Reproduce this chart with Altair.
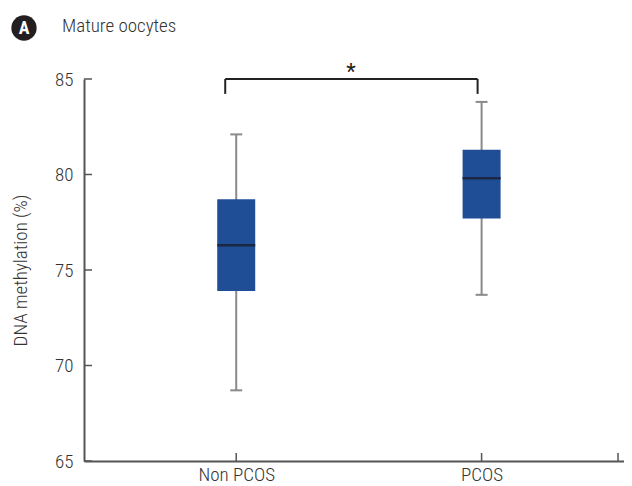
import altair as alt
import pandas as pd

# ---- data ----
groups = ["Non PCOS", "PCOS"]
group_pos = [1, 2]
whisker_min = [68.7, 73.7]
q1 = [73.9, 77.7]
median = [76.3, 79.8]
q3 = [78.7, 81.3]
whisker_max = [82.1, 83.8]
y_ticks = [65, 70, 75, 80, 85]
x_ticks = [1, 2, 2.556]
panel_letter = "A"
title_text = "Mature oocytes"
y_title = "DNA methylation (%)"
sig_mark = "*"

df = pd.DataFrame(dict(group=groups, pos=group_pos, lo=whisker_min,
                       q1=q1, med=median, q3=q3, hi=whisker_max))

FONT = "Roboto Condensed, Liberation Sans Narrow, DejaVu Sans Condensed, Arial Narrow, Roboto, sans-serif"
W, H = 540, 382
BOX = "#1f4e96"
WHISK = "#8a8a8a"
AXC = "#555555"
TXT = "#333333"

xs = alt.Scale(domain=[0.4, 2.56], nice=False, zero=False)
ys = alt.Scale(domain=[65, 85], nice=False, zero=False)

label_expr = " : ".join(
    f"datum.value == {p} ? '{g}'" for p, g in zip(group_pos, groups)
) + " : ''"

X = alt.X("pos:Q", scale=xs, title=None,
          axis=alt.Axis(values=group_pos, labelExpr=label_expr, labelPadding=4,
                        labelFontSize=19, labelFont=FONT, labelColor=TXT,
                        labelFontWeight=300))
Y = alt.Y("lo:Q", scale=ys, title=y_title,
          axis=alt.Axis(values=y_ticks, labelPadding=11, labelFontSize=19,
                        labelFont=FONT, labelColor=TXT, labelFontWeight=300,
                        titleFont=FONT, titleFontSize=19, titleFontWeight=300,
                        titleColor=TXT, titlePadding=24))

base = alt.Chart(df)

whisk = base.mark_rule(color=WHISK, strokeWidth=2).encode(x=X, y=Y, y2="hi:Q")
cap_lo = base.mark_rule(color=WHISK, strokeWidth=2, xOffset=-6, x2Offset=6).encode(
    x=alt.X("pos:Q", scale=xs), x2="pos:Q", y=alt.Y("lo:Q", scale=ys))
cap_hi = base.mark_rule(color=WHISK, strokeWidth=2, xOffset=-6, x2Offset=6).encode(
    x=alt.X("pos:Q", scale=xs), x2="pos:Q", y=alt.Y("hi:Q", scale=ys))
box = base.mark_bar(size=38, color=BOX).encode(
    x=alt.X("pos:Q", scale=xs), y=alt.Y("q1:Q", scale=ys), y2="q3:Q")
med = base.mark_rule(color="#1b2743", strokeWidth=2.5, xOffset=-19, x2Offset=19).encode(
    x=alt.X("pos:Q", scale=xs), x2="pos:Q", y=alt.Y("med:Q", scale=ys))

# significance bracket
br = pd.DataFrame({"a": [group_pos[0]], "b": [group_pos[1]], "top": [y_ticks[-1]],
                   "bot": [y_ticks[-1] - 0.78], "mid": [(group_pos[0] + group_pos[1]) / 2],
                   "s": [sig_mark]})
bc = alt.Chart(br)
br_h = bc.mark_rule(color="#222222", strokeWidth=2, xOffset=-11, x2Offset=-4).encode(
    x=alt.X("a:Q", scale=xs), x2="b:Q", y=alt.Y("top:Q", scale=ys))
br_l = bc.mark_rule(color="#222222", strokeWidth=2, xOffset=-11).encode(
    x=alt.X("a:Q", scale=xs), y=alt.Y("top:Q", scale=ys), y2="bot:Q")
br_r = bc.mark_rule(color="#222222", strokeWidth=2, xOffset=-4).encode(
    x=alt.X("b:Q", scale=xs), y=alt.Y("top:Q", scale=ys), y2="bot:Q")
star = bc.mark_text(font=FONT, fontSize=22, color="#222222", dx=-8, dy=-7,
                    baseline="middle").encode(
    x=alt.X("mid:Q", scale=xs), y=alt.Y("top:Q", scale=ys), text="s:N")

# inward axis ticks
yt = alt.Chart(pd.DataFrame({"v": y_ticks})).mark_rule(color=AXC, strokeWidth=1.5).encode(
    y=alt.Y("v:Q", scale=ys), x=alt.value(0), x2=alt.value(8))
xt = alt.Chart(pd.DataFrame({"v": x_ticks})).mark_rule(color=AXC, strokeWidth=1.5).encode(
    x=alt.X("v:Q", scale=xs), y=alt.value(H - 8), y2=alt.value(H))

# panel label and title
hd = alt.Chart(pd.DataFrame({"l": [panel_letter], "t": [title_text]}))
circ = hd.mark_circle(size=640, color="#231f20", opacity=1).encode(
    x=alt.value(-60), y=alt.value(-51))
letter = hd.mark_text(font=FONT, fontSize=18, fontWeight="bold", color="white",
                      baseline="middle").encode(x=alt.value(-60), y=alt.value(-50), text="l:N")
ttl = hd.mark_text(font=FONT, fontSize=19, fontWeight=300, color=TXT, align="left",
                   baseline="alphabetic").encode(x=alt.value(-22), y=alt.value(-47), text="t:N")

chart = alt.layer(whisk, cap_lo, cap_hi, box, med, br_h, br_l, br_r, star, yt, xt,
                  circ, letter, ttl).properties(
    width=W, height=H, autosize="none",
    padding={"left": 76, "top": 71, "right": 0, "bottom": 28},
).configure_view(stroke=None).configure_axis(
    grid=False, ticks=False, domainColor=AXC, domainWidth=2)

chart.save("out.html", embed_options={"renderer": "svg", "actions": False})
